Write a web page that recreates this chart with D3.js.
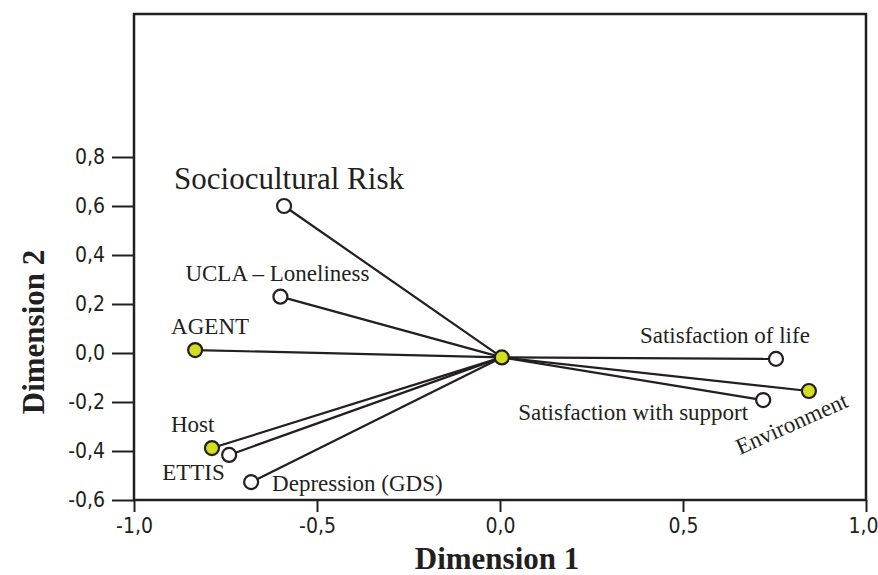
<!DOCTYPE html>
<html>
<head>
<meta charset="utf-8">
<script src="https://cdn.jsdelivr.net/npm/d3@7"></script>
<style>
  body { margin: 0; background: #fff; }
  svg { display: block; }
</style>
</head>
<body>
<svg id="chart" width="878" height="575"></svg>
<script>
// variables and factors of the biplot
const names = ["Sociocultural Risk", "UCLA \u2013 Loneliness", "AGENT", "Host", "ETTIS",
  "Depression (GDS)", "Satisfaction of life", "Environment", "Satisfaction with support"];
const dim1 = [-0.59, -0.60, -0.833, -0.787, -0.74, -0.68, 0.754, 0.844, 0.719];
const dim2 = [0.60, 0.23, 0.012, -0.388, -0.416, -0.527, -0.024, -0.155, -0.192];
const isFactor = [false, false, true, true, false, false, false, true, false];
const origin = [0.005, -0.018];

const xTicks = [-1, -0.5, 0, 0.5, 1];
const yTicks = [-0.6, -0.4, -0.2, 0, 0.2, 0.4, 0.6, 0.8];

// label placement: dx, dy from the point, font size, rotation
const labelPos = {
  "Sociocultural Risk": [-110, -17, 31, 0],
  "UCLA \u2013 Loneliness": [-95, -16, 23, 0],
  "AGENT": [-24, -16, 23, 0],
  "Host": [-41, -16, 23, 0],
  "ETTIS": [-67, 25, 23, 0],
  "Depression (GDS)": [21, 9, 23, 0],
  "Satisfaction of life": [-136, -16, 23, 0],
  "Environment": [-69, 64, 23, -24],
  "Satisfaction with support": [-245, 20, 23, 0]
};

const fmt = d => d3.format(".1f")(d).replace(".", ",").replace("\u2212", "-");

const svg = d3.select("#chart");
const m = { left: 134, right: 866, top: 14, bottom: 500 };

const x = d3.scaleLinear().domain([-1, 1]).range([m.left, m.right]);
const y = d3.scaleLinear().domain([-0.6, 0.8]).range([m.bottom, 157]);

// frame
svg.append("rect")
  .attr("x", m.left).attr("y", m.top)
  .attr("width", m.right - m.left).attr("height", m.bottom - m.top)
  .attr("fill", "none").attr("stroke", "#231f20").attr("stroke-width", 2.5);

const yAxis = svg.append("g")
  .attr("transform", `translate(${m.left},0)`)
  .call(d3.axisLeft(y).tickValues(yTicks).tickSize(22).tickPadding(7).tickFormat(fmt));
yAxis.select(".domain").remove();

const xAxis = svg.append("g")
  .attr("transform", `translate(0,${m.bottom})`)
  .call(d3.axisBottom(x).tickValues(xTicks).tickSize(12).tickPadding(6).tickFormat(fmt));
xAxis.select(".domain").remove();
xAxis.selectAll(".tick:last-of-type text").attr("dx", -3);

svg.selectAll(".tick line").attr("stroke", "#231f20").attr("stroke-width", 2);
svg.selectAll(".tick text")
  .attr("fill", "#231f20")
  .attr("font-family", "'Liberation Sans Narrow', 'DejaVu Sans Condensed', sans-serif")
  .attr("font-size", 21);

// lines from origin
const idx = d3.range(names.length);
svg.append("g")
  .selectAll("line")
  .data(idx)
  .join("line")
  .attr("x1", x(origin[0])).attr("y1", y(origin[1]))
  .attr("x2", i => x(dim1[i])).attr("y2", i => y(dim2[i]))
  .attr("stroke", "#231f20").attr("stroke-width", 2.2);

svg.append("g")
  .selectAll("circle")
  .data(idx)
  .join("circle")
  .attr("cx", i => x(dim1[i])).attr("cy", i => y(dim2[i]))
  .attr("r", 7)
  .attr("fill", i => isFactor[i] ? "#d4de21" : "#fff")
  .attr("stroke", "#231f20").attr("stroke-width", 2.2);

svg.append("circle")
  .attr("cx", x(origin[0])).attr("cy", y(origin[1]))
  .attr("r", 7)
  .attr("fill", "#d4de21")
  .attr("stroke", "#231f20").attr("stroke-width", 2.2);

svg.append("g")
  .selectAll("text")
  .data(idx)
  .join("text")
  .attr("transform", i => {
    const p = labelPos[names[i]];
    return `translate(${x(dim1[i]) + p[0]},${y(dim2[i]) + p[1]}) rotate(${p[3]})`;
  })
  .attr("font-family", "'Liberation Serif', 'DejaVu Serif', serif")
  .attr("font-size", i => labelPos[names[i]][2])
  .attr("fill", "#231f20")
  .text(i => names[i]);

// axis titles
svg.append("text")
  .attr("x", 497).attr("y", 569)
  .attr("text-anchor", "middle")
  .attr("font-family", "'Liberation Serif', serif")
  .attr("font-weight", "bold")
  .attr("font-size", 31)
  .attr("fill", "#231f20")
  .text("Dimension 1");

svg.append("text")
  .attr("transform", "translate(44,332) rotate(-90)")
  .attr("text-anchor", "middle")
  .attr("font-family", "'Liberation Serif', serif")
  .attr("font-weight", "bold")
  .attr("font-size", 31)
  .attr("fill", "#231f20")
  .text("Dimension 2");
</script>
</body>
</html>
